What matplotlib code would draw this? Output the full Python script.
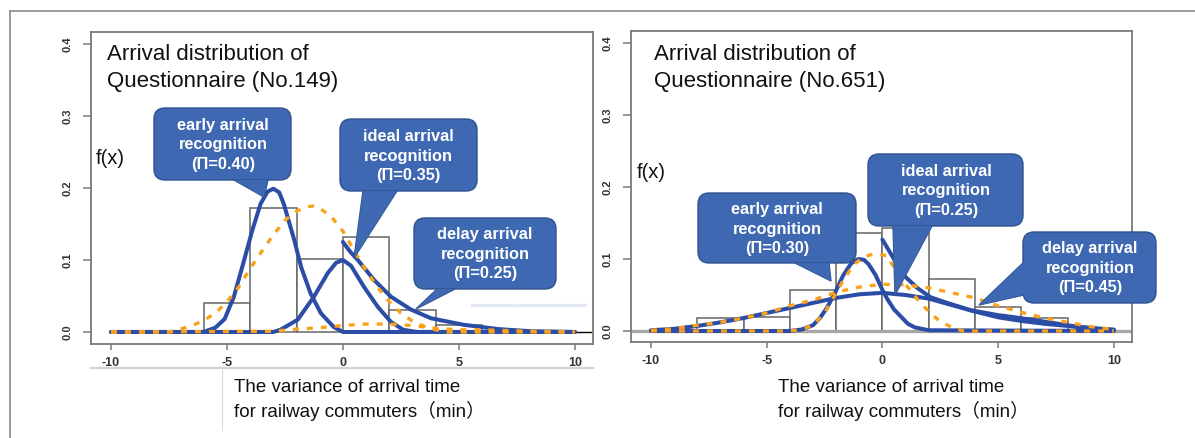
import matplotlib
matplotlib.use("Agg")
import matplotlib.pyplot as plt
from matplotlib.patches import FancyBboxPatch, Polygon
from matplotlib.lines import Line2D
from matplotlib.transforms import Affine2D

W, H, DPI = 1195, 438, 100

# ---------------- data : Questionnaire No.149 ----------------
bin_edges_149 = [-6, -4, -2, 0, 2, 4, 6]
hist_149 = [0.040, 0.172, 0.101, 0.132, 0.031, 0.010]

early_149_x = [-10, -6, -5.5, -5.1, -4.7, -4.3, -3.9, -3.55, -3.25, -3.0, -2.75, -2.55, -2.1, -1.8, -1.4, -0.95, -0.4, 0, 10]
early_149_y = [0, 0, 0.006, 0.018, 0.049, 0.095, 0.142, 0.178, 0.195, 0.199, 0.194, 0.178, 0.128, 0.09, 0.054, 0.026, 0.007, 0, 0]

ideal_149_x = [-10, -3, -2.7, -1.95, -1.25, -0.65, -0.3, 0, 0.35, 0.9, 1.5, 2.07, 2.6, 3.2, 10]
ideal_149_y = [0, 0, 0.003, 0.017, 0.049, 0.082, 0.096, 0.1, 0.092, 0.063, 0.035, 0.014, 0.003, 0, 0]

delay_149_x = [0, 0.3, 0.64, 1.35, 2.07, 2.94, 3.8, 5.2, 6.7, 8.1, 10]
delay_149_y = [0.125, 0.112, 0.1, 0.072, 0.049, 0.031, 0.019, 0.01, 0.004, 0.001, 0]

fit_149_x = [-10, -7.5, -7, -6.5, -6, -5.5, -5, -4.5, -4, -3.5, -3, -2.5, -2, -1.5, -1.25, -1, -0.5, 0,
             0.5, 1, 1.5, 2, 2.5, 3, 3.5, 4, 4.5, 10]
fit_149_y = [0, 0, 0.004, 0.009, 0.016, 0.026, 0.042, 0.062, 0.088, 0.112, 0.135, 0.155, 0.168, 0.174, 0.175,
             0.172, 0.16, 0.14, 0.112, 0.085, 0.062, 0.042, 0.026, 0.015, 0.008, 0.003, 0, 0]

small_149_x = [-10, -3, -2, -1, 0, 1, 2, 3, 4, 5, 6, 7, 8, 10]
small_149_y = [0, 0.001, 0.004, 0.006, 0.009, 0.011, 0.011, 0.009, 0.005, 0.003, 0.003, 0.002, 0.001, 0]

# ---------------- data : Questionnaire No.651 ----------------
bin_edges_651 = [-8, -6, -4, -2, 0, 2, 4, 6, 8]
hist_651 = [0.018, 0.019, 0.057, 0.136, 0.143, 0.072, 0.033, 0.018]

early_651_x = [-10, -4, -3.5, -3, -2.7, -2.4, -2.05, -1.7, -1.35, -1.05, -0.8, -0.6, -0.3, 0, 0.2, 0.5, 0.8, 1.1, 1.4, 2, 10]
early_651_y = [0, 0, 0.002, 0.008, 0.018, 0.032, 0.053, 0.077, 0.094, 0.1, 0.099, 0.093, 0.078, 0.057, 0.045, 0.03,
               0.02, 0.01, 0.005, 0.001, 0]

broad_651_x = [-10, -9, -8, -7, -6, -5, -4, -3, -2, -1, 0, 1, 2, 3, 4, 5, 6, 7, 8, 9, 10]
broad_651_y = [0.001, 0.003, 0.007, 0.012, 0.018, 0.025, 0.032, 0.039, 0.046, 0.051, 0.053, 0.05, 0.045, 0.036,
               0.027, 0.019, 0.014, 0.01, 0.007, 0.004, 0.002]

delay_651_x = [0, 0.5, 0.9, 1.5, 2.07, 2.8, 3.8, 5, 5.5, 7, 8.4, 10]
delay_651_y = [0.127, 0.1, 0.078, 0.06, 0.047, 0.039, 0.029, 0.022, 0.02, 0.013, 0.006, 0.001]

narrow_fit_651_x = [-10, -4, -3.5, -3, -2.5, -2.1, -1.68, -1.25, -0.82, -0.38, 0.2, 0.5, 1.07, 1.64, 2.07, 2.5,
                    3.07, 3.5, 10]
narrow_fit_651_y = [0, 0, 0.002, 0.008, 0.025, 0.047, 0.071, 0.092, 0.103, 0.107, 0.105, 0.088, 0.062, 0.039,
                    0.025, 0.013, 0.004, 0, 0]

broad_fit_651_x = [-10, -9, -8, -7, -6, -5, -4, -3, -2, -1, 0, 1, 2, 3, 4, 5, 6, 7, 8, 9, 10]
broad_fit_651_y = [0.001, 0.003, 0.008, 0.012, 0.018, 0.025, 0.035, 0.043, 0.054, 0.061, 0.065, 0.064, 0.06,
                   0.053, 0.046, 0.035, 0.026, 0.018, 0.012, 0.006, 0.002]

x_ticks = [-10, -5, 0, 5, 10]
x_tick_labels = ["-10", "-5", "0", "5", "10"]
y_ticks = [0.0, 0.1, 0.2, 0.3, 0.4]
y_tick_labels = ["0.0", "0.1", "0.2", "0.3", "0.4"]

titles = ["Arrival distribution of\nQuestionnaire (No.149)", "Arrival distribution of\nQuestionnaire (No.651)"]
xlabel_lines = ["The variance of arrival time", "for railway commuters\uff08min\uff09"]
callouts_149 = ["early arrival\nrecognition\n(\u03a0=0.40)", "ideal arrival\nrecognition\n(\u03a0=0.35)",
                "delay arrival\nrecognition\n(\u03a0=0.25)"]
callouts_651 = ["early arrival\nrecognition\n(\u03a0=0.30)", "ideal arrival\nrecognition\n(\u03a0=0.25)",
                "delay arrival\nrecognition\n(\u03a0=0.45)"]

# ---------------- styles ----------------
BLUE = "#2c4da6"
ORANGE = "#f9a11b"
CALLOUT = "#3e68b2"
CALLOUT_EDGE = "#2f528f"
SPINE = "#7a7a7a"
FONT = ["Liberation Sans", "Noto Sans CJK JP", "DejaVu Sans"]
plt.rcParams["font.family"] = FONT

fig = plt.figure(figsize=(W / DPI, H / DPI), dpi=DPI)
fig.patch.set_facecolor("white")


def fx(x):
    return x / W


def fy(y):
    return 1 - y / H


PIX = Affine2D().scale(1, -1).translate(0, H)  # top-left pixel coords -> display


def make_axes(left, top, right, bottom, ylim):
    ax = fig.add_axes([fx(left), fy(bottom), (right - left) / W, (bottom - top) / H])
    ax.set_xlim(-10.86, 10.78)
    ax.set_ylim(*ylim)
    for s in ax.spines.values():
        s.set_color(SPINE)
        s.set_linewidth(1.3)
    ax.set_xticks(x_ticks)
    ax.set_xticklabels(x_tick_labels, fontsize=9, fontweight="bold", color="#333333")
    ax.set_yticks(y_ticks)
    ax.set_yticklabels(y_tick_labels, fontsize=8, fontweight="bold", rotation=90, va="center",
                       color="#333333")
    ax.tick_params(axis="x", direction="out", length=4, width=1.1, color=SPINE, pad=5)
    ax.tick_params(axis="y", direction="out", length=5.5, width=1.1, color=SPINE, pad=8)
    return ax


def draw_hist(ax, edges, values):
    widths = [edges[i + 1] - edges[i] for i in range(len(values))]
    ax.bar(edges[:-1], values, width=widths, align="edge", facecolor="white", edgecolor="#666666",
           linewidth=1.1, zorder=1)


def blue(ax, x, y):
    ax.plot(x, y, color=BLUE, lw=2.9, solid_capstyle="round", solid_joinstyle="round", zorder=3)


def orange(ax, x, y):
    ax.plot(x, y, color=ORANGE, lw=2.4, linestyle=(0, (1.8, 2.4)), zorder=4)


def callout(box, base, tip, text, text_center):
    x0, y0, x1, y1 = box
    wedge_outline = Polygon([base[0], tip, base[1]], closed=True, transform=PIX, facecolor=CALLOUT,
                            edgecolor=CALLOUT_EDGE, lw=1.0, zorder=20)
    rect = FancyBboxPatch((x0, y0), x1 - x0, y1 - y0, boxstyle="round,pad=0,rounding_size=11",
                          transform=PIX, facecolor=CALLOUT, edgecolor=CALLOUT_EDGE, lw=1.0, zorder=21)
    wedge_fill = Polygon([base[0], tip, base[1]], closed=True, transform=PIX, facecolor=CALLOUT,
                         edgecolor="none", zorder=22)
    for p in (wedge_outline, rect, wedge_fill):
        fig.add_artist(p)
    fig.text(fx(text_center[0]), fy(text_center[1]), text, ha="center", va="center", color="white",
             fontsize=11.8, fontweight="bold", linespacing=1.4, zorder=23)


# ---------------- left panel ----------------
axL = make_axes(91, 32, 593, 344, (-0.0167, 0.4167))
draw_hist(axL, bin_edges_149, hist_149)
axL.hlines(0, early_149_x[-1], axL.get_xlim()[1], color="black", lw=1.0, zorder=2)
blue(axL, early_149_x, early_149_y)
blue(axL, ideal_149_x, ideal_149_y)
blue(axL, delay_149_x, delay_149_y)
orange(axL, fit_149_x, fit_149_y)
orange(axL, small_149_x, small_149_y)

# ---------------- right panel ----------------
axR = make_axes(631, 31, 1132, 342, (-0.0153, 0.417))
draw_hist(axR, bin_edges_651, hist_651)
axR.axhline(0, color="#a8a8a8", lw=2.4, zorder=1.5)
blue(axR, early_651_x, early_651_y)
blue(axR, broad_651_x, broad_651_y)
blue(axR, delay_651_x, delay_651_y)
orange(axR, narrow_fit_651_x, narrow_fit_651_y)
orange(axR, broad_fit_651_x, broad_fit_651_y)

# ---------------- texts ----------------
for (tx, title) in zip([107, 654], titles):
    l1, l2 = title.split("\n")
    fig.text(fx(tx), fy(55), l1, ha="left", va="center", fontsize=16, color="#111111")
    fig.text(fx(tx), fy(82), l2, ha="left", va="center", fontsize=16, color="#111111")

fig.text(fx(96), fy(159), "f(x)", ha="left", va="center", fontsize=14.5, color="#111111")
fig.text(fx(637), fy(172), "f(x)", ha="left", va="center", fontsize=14.5, color="#111111")

for lx in (234, 778):
    fig.text(fx(lx), fy(388), xlabel_lines[0], ha="left", va="center", fontsize=13.5, color="#111111")
    fig.text(fx(lx), fy(411), xlabel_lines[1], ha="left", va="center", fontsize=13.5, color="#111111")

# ---------------- callouts ----------------
callout((154, 108, 291, 180), [(234, 180), (268, 180)], (264, 197), callouts_149[0], (223, 145))
callout((340, 119, 477, 191), [(363, 191), (397, 191)], (354, 258), callouts_149[1], (408, 156))
callout((414, 218, 556, 289), [(437, 289), (455, 289)], (416, 309), callouts_149[2], (485, 254))
callout((698, 193, 856, 263), [(795, 263), (829, 263)], (831, 281), callouts_651[0], (777, 229))
callout((868, 154, 1023, 226), [(893, 226), (932, 226)], (895, 295), callouts_651[1], (946, 191))
callout((1023, 232, 1156, 303), [(1024, 262), (1024, 295)], (979, 305), callouts_651[2], (1090, 268))

# ---------------- decorations ----------------
deco = [
    ([10, 10], [11, 438], "#8a8a8a", 1.2),
    ([10, 1195], [11, 11], "#8a8a8a", 1.2),
    ([91, 593], [368, 368], "#d2d2d2", 1.6),
    ([222, 222], [368, 430], "#dadada", 0.8),
    ([472, 515], [305, 305], "#e2e8f4", 2.4),
    ([519, 585], [305, 305], "#e2e8f4", 2.4),
]
for xs, ys, c, lw in deco:
    fig.add_artist(Line2D(xs, ys, transform=PIX, color=c, lw=lw, zorder=0.5))

fig.savefig("out.png", dpi=DPI, facecolor="white")
